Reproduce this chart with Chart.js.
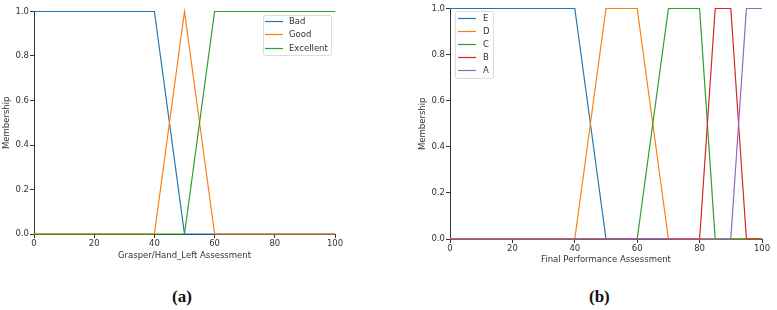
<!DOCTYPE html>
<html>
<head>
<meta charset="utf-8">
<script src="https://cdn.jsdelivr.net/npm/chart.js@4.4.1/dist/chart.umd.min.js"></script>
<style>
body{margin:0;background:#fff;width:777px;height:310px;position:relative;overflow:hidden;}
.box{position:absolute;}
.cap{position:absolute;font-family:'Liberation Serif',serif;font-weight:bold;font-size:17px;color:#111;}
</style>
</head>
<body>
<div class="box" style="left:0;top:0;width:345px;height:270px"><canvas id="chartA"></canvas></div>
<div class="box" style="left:414px;top:0;width:363px;height:275px"><canvas id="chartB"></canvas></div>
<div class="cap" style="left:172px;top:287px">(a)</div>
<div class="cap" style="left:589px;top:287px">(b)</div>
<script>
// (a) Grasper/Hand_Left membership functions
const aBadX = [0, 40, 50, 100],          aBadY = [1, 1, 0, 0];
const aGoodX = [0, 40, 50, 60, 100],     aGoodY = [0, 0, 1, 0, 0];
const aExcX = [0, 50, 60, 100],          aExcY = [0, 0, 1, 1];

// (b) Final performance membership functions
const bEX = [0, 40, 50, 100],            bEY = [1, 1, 0, 0];
const bDX = [0, 40, 50, 60, 70, 100],    bDY = [0, 0, 1, 1, 0, 0];
const bCX = [0, 60, 70, 80, 85, 100],    bCY = [0, 0, 1, 1, 0, 0];
const bBX = [0, 80, 85, 90, 95, 100],    bBY = [0, 0, 1, 1, 0, 0];
const bAX = [0, 90, 95, 100],            bAY = [0, 0, 1, 1];

const xTicks = [0, 20, 40, 60, 80, 100];
const yTicks = [0, 0.2, 0.4, 0.6, 0.8, 1.0];

const blue = "#1f77b4", orange = "#ff7f0e", green = "#2ca02c", red = "#d62728", purple = "#9467bd";
const txt = "#333";
const fnt = {family: "DejaVu Sans", size: 8.5};

function pts(xs, ys){
    return xs.map((x, i) => ({x: x, y: ys[i]}));
}

function series(label, xs, ys, color, order){
    return {
        label: label, data: pts(xs, ys),
        borderColor: color, backgroundColor: color,
        borderWidth: 1.2, pointRadius: 0, showLine: true,
        tension: 0, clip: false, order: order
    };
}

// legend box drawn like the matplotlib one
const legendBox = {
    id: "legendBox",
    afterDraw(chart, args, o){
        const ctx = chart.ctx;
        ctx.save();
        ctx.fillStyle = "rgba(255,255,255,0.85)";
        ctx.strokeStyle = "#dcdcdc";
        ctx.lineWidth = 1;
        ctx.beginPath();
        ctx.roundRect(o.x + 0.5, o.y + 0.5, o.w, o.h, 2);
        ctx.fill();
        ctx.stroke();
        ctx.font = "8.5px 'DejaVu Sans'";
        ctx.textBaseline = "middle";
        chart.data.datasets.forEach((ds, i) => {
            const y = Math.round(o.row0 + i * o.rowH) + 0.5;
            ctx.strokeStyle = ds.borderColor;
            ctx.lineWidth = 1.2;
            ctx.beginPath();
            ctx.moveTo(o.l0, y);
            ctx.lineTo(o.l1, y);
            ctx.stroke();
            ctx.fillStyle = txt;
            ctx.fillText(ds.label, o.tx, y);
        });
        ctx.restore();
    }
};

function makeOptions(xTitle, yWidth, xHeight, pad, yTitlePad, xTitlePad, legend){
    return {
        responsive: true,
        maintainAspectRatio: false,
        animation: false,
        layout: {padding: pad},
        plugins: {
            legend: {display: false},
            tooltip: {enabled: false},
            legendBox: legend
        },
        scales: {
            x: {
                type: "linear", min: 0, max: 100,
                afterBuildTicks: s => { s.ticks = xTicks.map(v => ({value: v})); },
                afterFit: s => { s.height = xHeight; },
                ticks: {color: txt, font: fnt, padding: 1, maxRotation: 0, autoSkip: false},
                grid: {display: true, drawOnChartArea: false, drawTicks: true, tickLength: 4, color: txt},
                border: {display: true, color: txt, width: 1},
                title: {display: true, text: xTitle, color: txt, font: fnt, padding: {top: 0, bottom: xTitlePad}}
            },
            y: {
                type: "linear", min: 0, max: 1,
                afterBuildTicks: s => { s.ticks = yTicks.map(v => ({value: v})); },
                afterFit: s => { s.width = yWidth; },
                ticks: {color: txt, font: fnt, padding: 1, callback: v => v.toFixed(1)},
                grid: {display: true, drawOnChartArea: false, drawTicks: true, tickLength: 4, color: txt},
                border: {display: true, color: txt, width: 1},
                title: {display: true, text: "Membership", color: txt, font: fnt, padding: {top: yTitlePad, bottom: 0}}
            }
        }
    };
}

new Chart(document.getElementById("chartA"), {
    type: "scatter",
    data: {
        datasets: [
            series("Bad", aBadX, aBadY, blue, 3),
            series("Good", aGoodX, aGoodY, orange, 2),
            series("Excellent", aExcX, aExcY, green, 1)
        ]
    },
    options: makeOptions("Grasper/Hand_Left Assessment", 34, 36,
        {top: 11.5, right: 10, bottom: 0, left: 0}, 1.9, 8.9,
        {x: 263, y: 15, w: 68, h: 40, l0: 265, l1: 283, tx: 289, row0: 21, rowH: 13.3}),
    plugins: [legendBox]
});

new Chart(document.getElementById("chartB"), {
    type: "scatter",
    data: {
        datasets: [
            series("E", bEX, bEY, blue, 5),
            series("D", bDX, bDY, orange, 4),
            series("C", bCX, bCY, green, 3),
            series("B", bBX, bBY, red, 2),
            series("A", bAX, bAY, purple, 1)
        ]
    },
    options: makeOptions("Final Performance Assessment", 36, 36,
        {top: 8.5, right: 15, bottom: 0, left: 0}, 3.4, 9.9,
        {x: 41, y: 11, w: 38, h: 67, l0: 44, l1: 62, tx: 69, row0: 18, rowH: 13.1}),
    plugins: [legendBox]
});
</script>
</body>
</html>
